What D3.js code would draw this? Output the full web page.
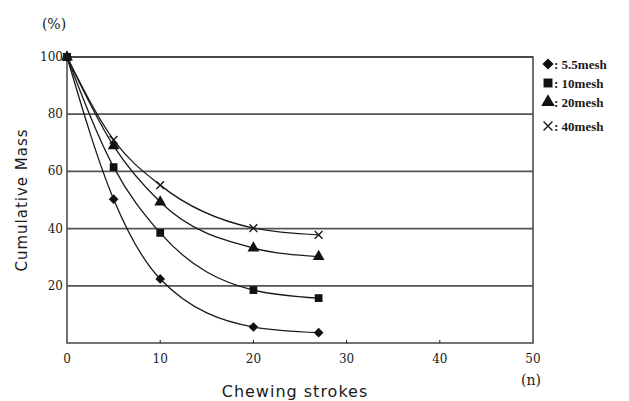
<!DOCTYPE html>
<html>
<head>
<meta charset="utf-8">
<script src="https://cdn.jsdelivr.net/npm/d3@7"></script>
<style>
  body { margin: 0; background: #fff; }
  svg { display: block; }
</style>
</head>
<body>
<svg width="629" height="401"></svg>
<script>
// chewing strokes (n)
var strokes = [0, 5, 10, 20, 27]

// cumulative mass (%) per sieve
var mesh55 = [100, 50.3, 22.4, 5.6, 3.6]
var mesh10 = [100, 61.5, 38.5, 18.5, 15.7]
var mesh20 = [100, 68.9, 49.3, 33.2, 30.2]
var mesh40 = [100, 71, 55.2, 40.2, 37.8]

var seriesNames = [": 5.5mesh", ": 10mesh", ": 20mesh", ": 40mesh"]
var yTicks = [20, 40, 60, 80, 100]
var xTicks = [0, 10, 20, 30, 40, 50]

var svg = d3.select("svg"),
  margin = {top: 57, right: 96, bottom: 58, left: 67},
  width = +svg.attr("width") - margin.left - margin.right,
  height = +svg.attr("height") - margin.top - margin.bottom,
  g = svg.append("g").attr("transform", "translate(" + margin.left + "," + margin.top + ")")

var x = d3.scaleLinear().domain([0, 50]).range([0, width])
var y = d3.scaleLinear().domain([0, 100]).range([height, 0])

var ink = "#1a1a1a"

// horizontal grid lines
g.selectAll(".grid")
  .data(yTicks)
  .enter().append("line")
  .attr("x1", 0).attr("x2", width)
  .attr("y1", d => y(d)).attr("y2", d => y(d))
  .attr("stroke", "#555")
  .attr("stroke-width", 1.8)

// frame
g.append("rect")
  .attr("width", width).attr("height", height)
  .attr("fill", "none")
  .attr("stroke", "#444")
  .attr("stroke-width", 1.5)

// small inner ticks on x axis
g.selectAll(".xt")
  .data(xTicks.slice(1, -1))
  .enter().append("line")
  .attr("x1", d => x(d)).attr("x2", d => x(d))
  .attr("y1", height).attr("y2", height - 3)
  .attr("stroke", ink)

var tickFont = "'DejaVu Serif', 'Liberation Serif', serif"

g.selectAll(".xl")
  .data(xTicks)
  .enter().append("text")
  .attr("x", d => x(d))
  .attr("y", height + 20)
  .attr("text-anchor", "middle")
  .attr("font-family", tickFont)
  .attr("font-size", 12)
  .attr("fill", ink)
  .text(d => d)

g.selectAll(".yl")
  .data(yTicks)
  .enter().append("text")
  .attr("x", -4)
  .attr("y", d => y(d) + 4)
  .attr("text-anchor", "end")
  .attr("font-family", tickFont)
  .attr("font-size", 12)
  .attr("fill", ink)
  .text(d => d)

svg.append("text")
  .attr("x", 54).attr("y", 29)
  .attr("text-anchor", "middle")
  .attr("font-family", tickFont)
  .attr("font-size", 14)
  .attr("fill", ink)
  .text("(%)")

svg.append("text")
  .attr("x", 531).attr("y", 385)
  .attr("text-anchor", "middle")
  .attr("font-family", tickFont)
  .attr("font-size", 14)
  .attr("fill", ink)
  .text("(n)")

svg.append("text")
  .attr("x", 295).attr("y", 397)
  .attr("text-anchor", "middle")
  .attr("font-family", "'DejaVu Sans', sans-serif")
  .attr("font-size", 16)
  .attr("letter-spacing", 1)
  .attr("fill", ink)
  .text("Chewing strokes")

svg.append("text")
  .attr("transform", "translate(27,200) rotate(-90)")
  .attr("text-anchor", "middle")
  .attr("font-family", "'DejaVu Sans', sans-serif")
  .attr("font-size", 15)
  .attr("letter-spacing", 1)
  .attr("fill", ink)
  .text("Cumulative Mass")

// series
var series = [mesh55, mesh10, mesh20, mesh40].map((vals, i) => ({
  name: seriesNames[i],
  values: strokes.map((s, j) => ({x: s, y: vals[j]}))
}))

var symbols = [d3.symbolDiamond2, d3.symbolSquare, d3.symbolTriangle, d3.symbolCross]

var line = d3.line()
  .x(d => x(d.x))
  .y(d => y(d.y))
  .curve(d3.curveMonotoneX)

g.selectAll(".series")
  .data(series)
  .enter().append("path")
  .attr("fill", "none")
  .attr("stroke", ink)
  .attr("stroke-width", 1.3)
  .attr("d", d => line(d.values))

function drawMarker(sel, i, size) {
  if (i === 3) {
    var r = Math.sqrt(size) / 2
    sel.append("path")
      .attr("d", "M" + -r + "," + -r + "L" + r + "," + r + "M" + -r + "," + r + "L" + r + "," + -r)
      .attr("stroke", ink)
      .attr("stroke-width", 1.4)
      .attr("fill", "none")
  } else {
    sel.append("path")
      .attr("d", d3.symbol().type(symbols[i]).size(size))
      .attr("fill", "#111")
  }
}

series.forEach((s, i) => {
  s.values.forEach(p => {
    var m = g.append("g").attr("transform", "translate(" + x(p.x) + "," + y(p.y) + ")")
    drawMarker(m, i, 60)
  })
})

// legend
var legendY = [64, 83, 102, 126]
series.forEach((s, i) => {
  var lg = svg.append("g").attr("transform", "translate(548," + legendY[i] + ")")
  drawMarker(lg, i, 80)
  lg.append("text")
    .attr("x", 6).attr("y", 4.5)
    .attr("font-family", "'Liberation Serif', serif")
    .attr("font-weight", "bold")
    .attr("font-size", 13)
    .attr("fill", ink)
    .text(s.name)
})
</script>
</body>
</html>
